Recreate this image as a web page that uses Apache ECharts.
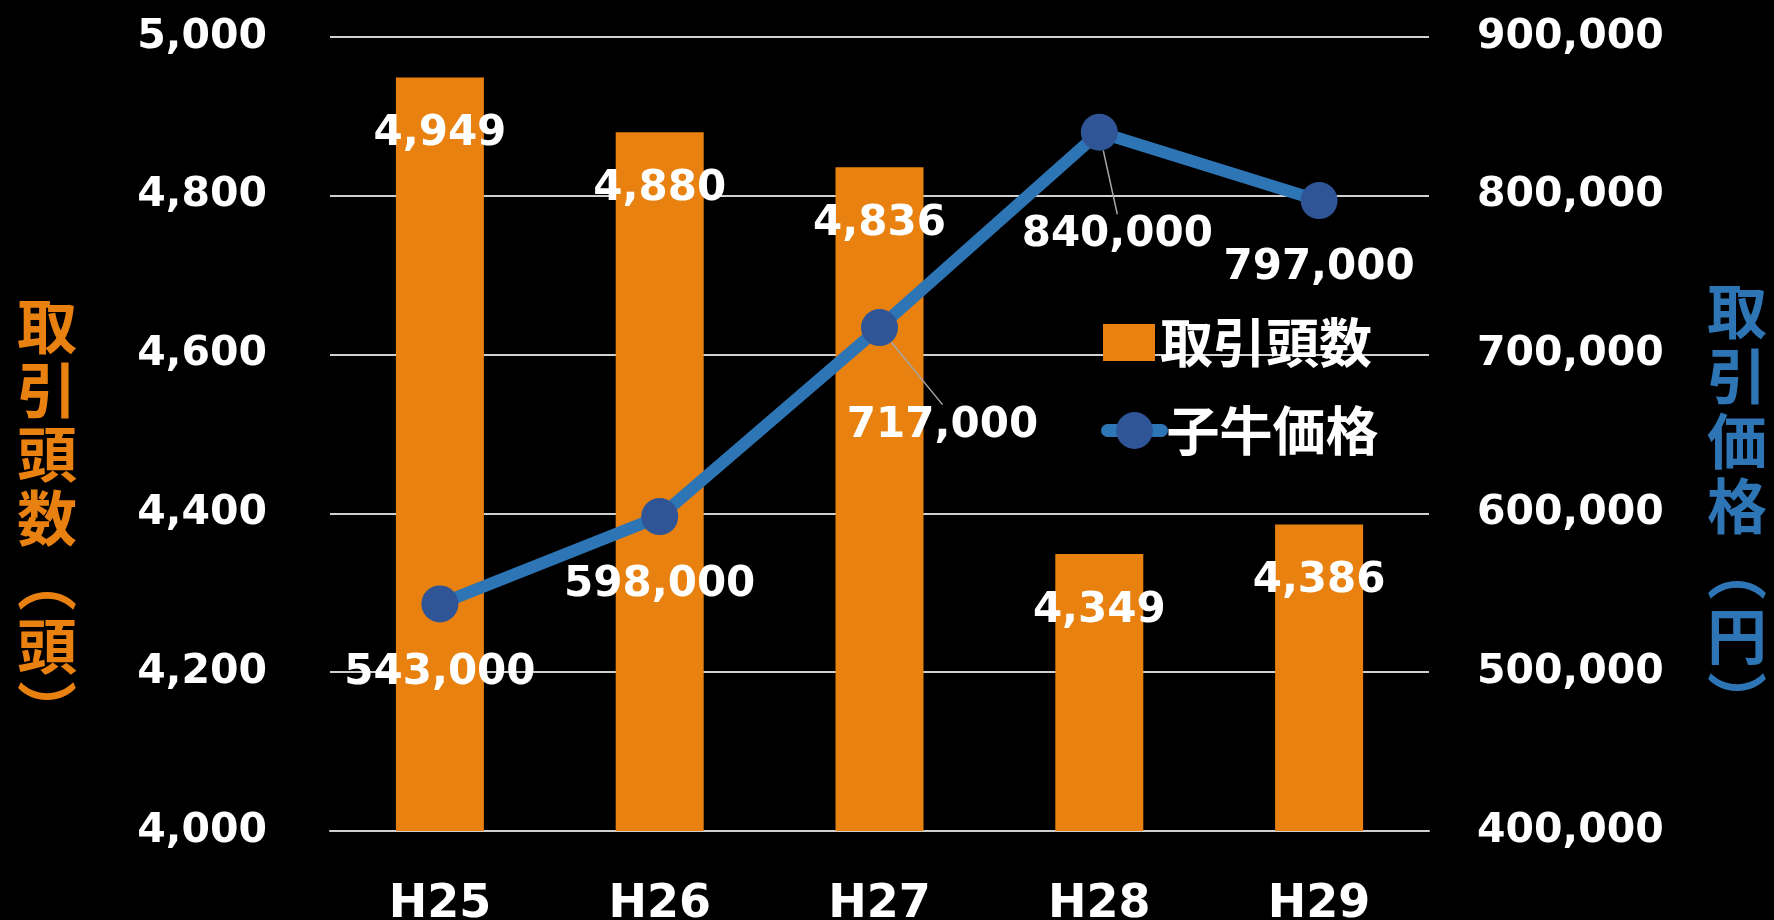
<!DOCTYPE html>
<html>
<head>
<meta charset="utf-8">
<title>取引頭数と子牛価格</title>
<script src="https://cdn.jsdelivr.net/npm/echarts@6.0.0/dist/echarts.min.js"></script>
<style>
  html, body { margin: 0; padding: 0; background: #000; }
  #main { width: 1774px; height: 920px; }
</style>
</head>
<body>
<div id="main"></div>
<script>
// データ
var years = ['H25', 'H26', 'H27', 'H28', 'H29'];
var headCount = [4949, 4880, 4836, 4349, 4386];      // 取引頭数（頭）
var calfPrice = [543000, 598000, 717000, 840000, 797000]; // 子牛価格（円）
var leftTicks = [4000, 5000, 200];
var rightTicks = [400000, 900000, 100000];

var ORANGE = '#E8810F';
var BLUE = '#2E75B6';
var NUM_FONT = '"DejaVu Sans", Verdana, sans-serif';
var JP_FONT = '"Noto Sans CJK JP", sans-serif';

// 子牛価格ラベルの位置（点からのずれ）と引き出し線
var priceLabelShift = [[0, 69], [0, 69], [63, 98], [18, 103], [0, 68]];
var priceLeader = [false, false, true, true, false];

function fmt(v) {
    return v.toLocaleString('en-US');
}

function legendText() {
    return {
        color: '#fff',
        fontSize: 53,
        fontWeight: 'bold',
        fontFamily: JP_FONT,
        lineHeight: 53
    };
}

function priceData() {
    var out = [];
    for (var i = 0; i < calfPrice.length; i++) {
        out.push({
            value: calfPrice[i],
            labelLine: { show: priceLeader[i] }
        });
    }
    return out;
}

function showChart(chart) {
    var option = {
        backgroundColor: '#000',
        animation: false,
        grid: {
            left: 330,
            right: 345,
            top: 37,
            bottom: 89,
            outerBoundsMode: 'none'
        },
        legend: [
            {
                orient: 'vertical',
                left: 1103,
                top: 316,
                padding: 0,
                itemWidth: 52,
                itemHeight: 37,
                textStyle: legendText(),
                data: [{ name: '取引頭数', icon: 'rect' }]
            },
            {
                orient: 'vertical',
                left: 1101,
                top: 404,
                padding: 0,
                itemWidth: 54,
                itemHeight: 46,
                lineStyle: { width: 13, cap: 'round' },
                textStyle: legendText(),
                data: [{ name: '子牛価格' }]
            }
        ],
        xAxis: {
            type: 'category',
            data: years,
            axisTick: { show: false },
            axisLine: { lineStyle: { color: '#D0D0D0', width: 2 } },
            axisLabel: {
                color: '#fff',
                fontSize: 46,
                fontWeight: 'bold',
                fontFamily: NUM_FONT,
                margin: 51
            }
        },
        yAxis: [
            {
                type: 'value',
                min: leftTicks[0],
                max: leftTicks[1],
                interval: leftTicks[2],
                axisLine: { show: false },
                axisTick: { show: false },
                splitLine: { lineStyle: { color: '#D0D0D0', width: 2 } },
                axisLabel: {
                    color: '#fff',
                    fontSize: 41,
                    fontWeight: 'bold',
                    fontFamily: NUM_FONT,
                    margin: 63,
                    padding: [0, 0, 20, 0],
                    formatter: fmt
                }
            },
            {
                type: 'value',
                min: rightTicks[0],
                max: rightTicks[1],
                interval: rightTicks[2],
                axisLine: { show: false },
                axisTick: { show: false },
                splitLine: { show: false },
                axisLabel: {
                    color: '#fff',
                    fontSize: 41,
                    fontWeight: 'bold',
                    fontFamily: NUM_FONT,
                    margin: 48,
                    padding: [0, 0, 20, 0],
                    formatter: fmt
                }
            }
        ],
        graphic: [
            {
                type: 'text',
                x: 47,
                y: 294,
                style: {
                    text: '取\n引\n頭\n数\n︵\n頭\n︶',
                    fill: ORANGE,
                    fontSize: 60,
                    fontWeight: 'bold',
                    fontFamily: JP_FONT,
                    lineHeight: 64,
                    align: 'center',
                    verticalAlign: 'top'
                }
            },
            {
                type: 'text',
                x: 1737,
                y: 279,
                style: {
                    text: '取\n引\n価\n格\n︵\n円\n︶',
                    fill: BLUE,
                    fontSize: 60,
                    fontWeight: 'bold',
                    fontFamily: JP_FONT,
                    lineHeight: 65,
                    align: 'center',
                    verticalAlign: 'top'
                }
            }
        ],
        series: [
            {
                name: '取引頭数',
                type: 'bar',
                yAxisIndex: 0,
                barWidth: 88,
                data: headCount,
                itemStyle: { color: ORANGE },
                label: {
                    show: true,
                    position: 'insideTop',
                    distance: 35,
                    color: '#fff',
                    fontSize: 42,
                    fontWeight: 'bold',
                    fontFamily: NUM_FONT,
                    lineHeight: 44,
                    formatter: function (p) { return fmt(p.value); }
                }
            },
            {
                name: '子牛価格',
                type: 'line',
                yAxisIndex: 1,
                data: priceData(),
                symbol: 'circle',
                symbolSize: 37,
                lineStyle: { color: BLUE, width: 12 },
                itemStyle: { color: '#2F5597' },
                z: 3,
                label: {
                    show: true,
                    position: 'inside',
                    color: '#fff',
                    fontSize: 42,
                    fontWeight: 'bold',
                    fontFamily: NUM_FONT,
                    formatter: function (p) { return fmt(p.value); }
                },
                labelLine: {
                    show: true,
                    lineStyle: { color: '#A6A6A6', width: 1.5 }
                },
                labelLayout: function (params) {
                    var s = priceLabelShift[params.dataIndex];
                    return { dx: s[0], dy: s[1] };
                }
            }
        ]
    };
    chart.setOption(option);
}

var myChart = echarts.init(document.getElementById('main'));
showChart(myChart);
</script>
</body>
</html>
